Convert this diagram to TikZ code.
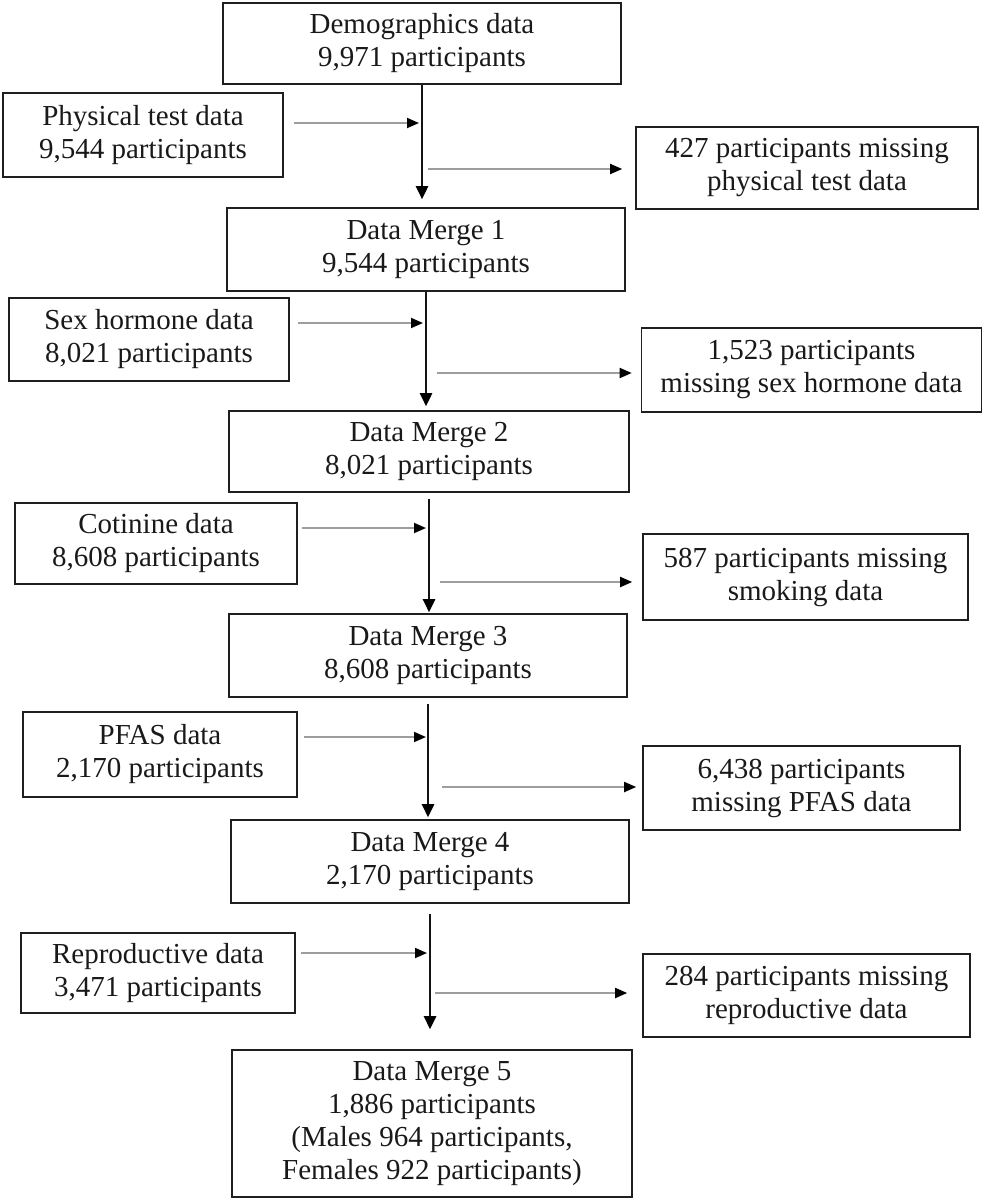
\documentclass[tikz,border=0pt]{standalone}
\usepackage{fontspec}
\setmainfont{Liberation Serif}
\usetikzlibrary{arrows.meta}
\begin{document}
\begin{tikzpicture}[x=1pt,y=-1pt,
  box/.style={draw=black!88, line width=1.6pt, inner sep=0pt, align=center,
    font=\fontsize{29}{33}\selectfont, text=black!90},
  vline/.style={line width=2.6pt, draw=black!92,
    -{Triangle[length=13pt,width=12pt,color=black]}},
  hline/.style={line width=1.8pt, draw=black!38,
    -{Triangle[length=12pt,width=10pt,color=black]}}]
\useasboundingbox (0,0) rectangle (983,1200);

% main column
\node[box, minimum width=398pt, minimum height=81pt] (demo) at (422,43.5) {Demographics data\\9,971 participants};
\node[box, minimum width=398pt, minimum height=83pt] (merge1) at (426,249.5) {Data Merge 1\\9,544 participants};
\node[box, minimum width=400pt, minimum height=81pt] (merge2) at (429,451.5) {Data Merge 2\\8,021 participants};
\node[box, minimum width=398pt, minimum height=83pt] (merge3) at (428,655.5) {Data Merge 3\\8,608 participants};
\node[box, minimum width=398pt, minimum height=83pt] (merge4) at (430,861.5) {Data Merge 4\\2,170 participants};
\node[box, minimum width=400pt, minimum height=147pt] (merge5) at (432,1123.5) {Data Merge 5\\1,886 participants\\(Males 964 participants,\\Females 922 participants)};

% left inputs
\node[box, minimum width=280pt, minimum height=84pt] (phys) at (143,135) {Physical test data\\9,544 participants};
\node[box, minimum width=280pt, minimum height=83pt] (sex) at (149,339.5) {Sex hormone data\\8,021 participants};
\node[box, minimum width=282pt, minimum height=81pt] (cot) at (156,543.5) {Cotinine data\\8,608 participants};
\node[box, minimum width=274pt, minimum height=85pt] (pfas) at (160,754.5) {PFAS data\\2,170 participants};
\node[box, minimum width=274pt, minimum height=80pt] (repro) at (158,973) {Reproductive data\\3,471 participants};

% right exclusions
\node[box, minimum width=342pt, minimum height=82pt] (m427) at (807,168) {427 participants missing\\physical test data};
\node[box, minimum width=340pt, minimum height=84pt] (m1523) at (811.5,370) {1,523 participants\\missing sex hormone data};
\node[box, minimum width=325pt, minimum height=86pt] (m587) at (805.5,577) {587 participants missing\\smoking data};
\node[box, minimum width=317pt, minimum height=84pt] (m6438) at (801.5,788) {6,438 participants\\missing PFAS data};
\node[box, minimum width=327pt, minimum height=83pt] (m284) at (806.5,995.5) {284 participants missing\\reproductive data};

% vertical flow
\draw[vline, shorten >=8pt] (demo.south) -- (demo.south |- merge1.north);
\draw[vline, shorten >=4pt] (merge1.south) -- (merge1.south |- merge2.north);
\draw[vline, shorten <=6pt, shorten >=1pt] (merge2.south) -- (merge2.south |- merge3.north);
\draw[vline, shorten <=6pt, shorten >=2pt] (merge3.south) -- (merge3.south |- merge4.north);
\draw[vline, shorten <=10pt, shorten >=20pt] (merge4.south) -- (merge4.south |- merge5.north);

% input arrows
\coordinate (i1) at (419,123);
\coordinate (i2) at (423,323);
\coordinate (i3) at (426,528);
\coordinate (i4) at (426,737);
\coordinate (i5) at (427,953);
\draw[hline] ([xshift=10pt]phys.east |- i1) -- (i1);
\draw[hline] ([xshift=8pt]sex.east |- i2) -- (i2);
\draw[hline] ([xshift=4pt]cot.east |- i3) -- (i3);
\draw[hline] ([xshift=6pt]pfas.east |- i4) -- (i4);
\draw[hline] ([xshift=5pt]repro.east |- i5) -- (i5);

% exclusion arrows
\coordinate (o1) at (428,169);
\coordinate (o2) at (437,373);
\coordinate (o3) at (440,582);
\coordinate (o4) at (442,787);
\coordinate (o5) at (435,993);
\draw[hline, shorten >=13pt] (o1) -- (m427.west |- o1);
\draw[hline, shorten >=9pt] (o2) -- (m1523.west |- o2);
\draw[hline, shorten >=10pt] (o3) -- (m587.west |- o3);
\draw[hline, shorten >=6pt] (o4) -- (m6438.west |- o4);
\draw[hline, shorten >=15pt] (o5) -- (m284.west |- o5);
\end{tikzpicture}
\end{document}
